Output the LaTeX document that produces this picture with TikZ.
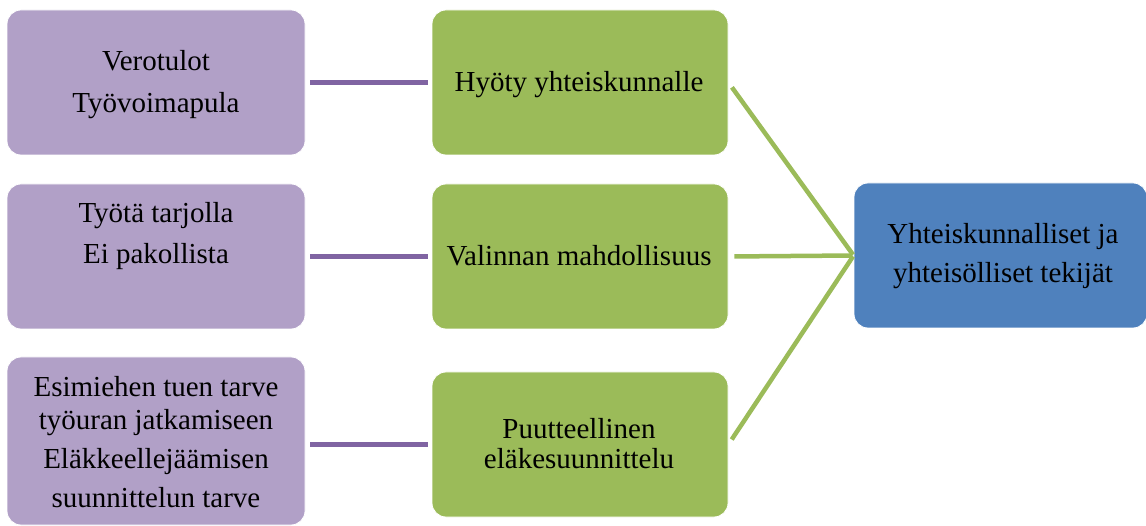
\documentclass[tikz,border=0pt]{standalone}
\usepackage{fontspec}
\setmainfont{Liberation Serif}
\definecolor{pfill}{HTML}{B1A0C7}
\definecolor{gfill}{HTML}{9BBB59}
\definecolor{bfill}{HTML}{4F81BD}
\definecolor{pline}{HTML}{8064A2}
\begin{document}
\begin{tikzpicture}[x=1pt,y=-1pt,
  box/.style={rectangle, rounded corners=14pt, inner sep=0pt, draw=white, line width=0.8pt,
              minimum width=298pt, minimum height=145pt},
  pbox/.style={box, fill=pfill},
  gbox/.style={box, fill=gfill, minimum width=296pt},
  bbox/.style={box, fill=bfill, minimum width=293pt},
  txt/.style={inner sep=0pt, align=center, anchor=north, text=black,
              font=\fontsize{29}{30}\selectfont},
  plink/.style={draw=pline, line width=5pt, shorten <=5pt, shorten >=4pt},
  glink/.style={draw=gfill, line width=4.5pt, shorten <=6pt, shorten >=1pt}]
\useasboundingbox (0,0) rectangle (1146,526);

% boxes
\node[pbox] (p1) at (156,82.5) {};
\node[pbox] (p2) at (156,256.5) {};
\node[pbox, minimum height=168pt] (p3) at (156,441) {};
\node[gbox] (g1) at (580,82.5) {};
\node[gbox] (g2) at (580,256.5) {};
\node[gbox] (g3) at (580,444.5) {};
\node[bbox] (b) at (1000.5,255.5) {};

% texts
\node[txt] (t1) at (156,50.3) {Verotulot\\[12pt]Työvoimapula};
\node[txt] (t2) at (156,201.8) {Työtä tarjolla\\[11pt]Ei pakollista};
\node[txt] (t3) at (156,376.3) {Esimiehen tuen tarve\\[3pt]työuran jatkamiseen\\[9pt]Eläkkeellejäämisen\\[9pt]suunnittelun tarve};
\node[txt] (u1) at (579,71.3) {Hyöty yhteiskunnalle};
\node[txt] (u2) at (579,245.3) {Valinnan mahdollisuus};
\node[txt] (u3) at (579,418.3) {Puutteellinen\\eläkesuunnittelu};
\node[txt] (v) at (1003,223.3) {Yhteiskunnalliset ja\\[9pt]yhteisölliset tekijät};

% connectors
\draw[plink] (p1.east) -- (g1.west);
\draw[plink] (p2.east) -- (g2.west);
\draw[plink] (p3.east |- g3.west) -- (g3.west);
\draw[glink] (g1.east) -- (b.west);
\draw[glink] (g2.east) -- (b.west);
\draw[glink] (g3.east) -- (b.west);
\end{tikzpicture}
\end{document}
